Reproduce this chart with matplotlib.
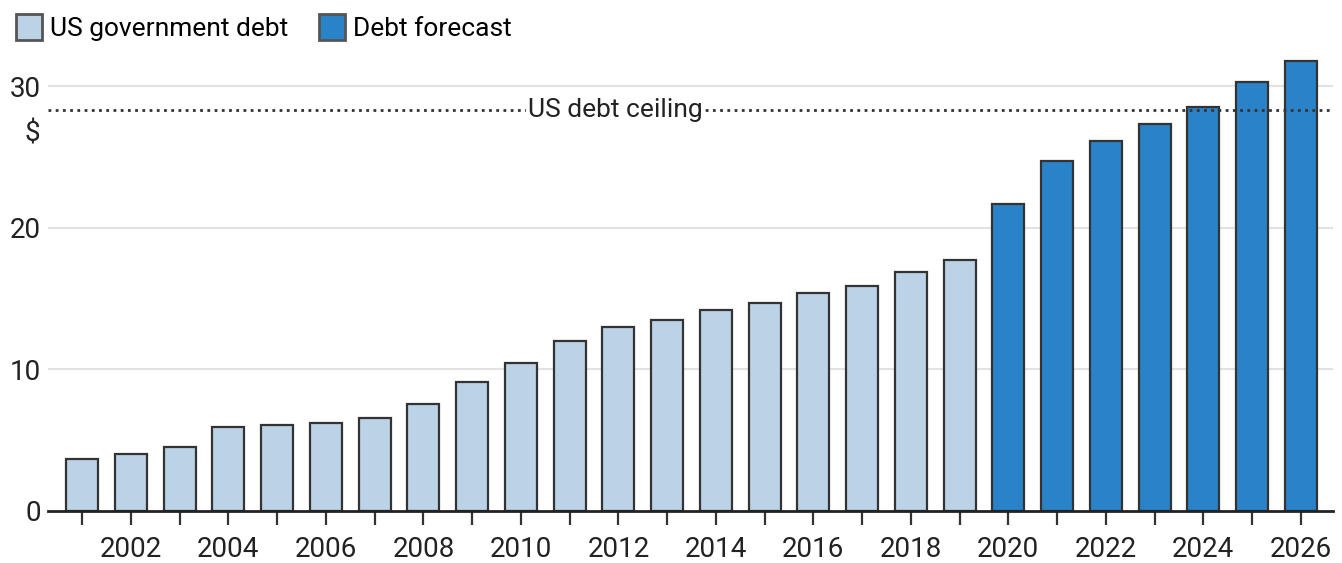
import matplotlib
matplotlib.use('Agg')
import matplotlib.pyplot as plt
from matplotlib.patches import Patch

plt.rcParams['font.family'] = ['Roboto', 'DejaVu Sans']

# US government debt, trillions of dollars
years = list(range(2001, 2027))
debt = [3.67, 4.03, 4.52, 5.94, 6.08, 6.22, 6.57, 7.56, 9.12, 10.46, 12.01, 13.0, 13.5,
        14.2, 14.7, 15.4, 15.9, 16.9, 17.74, 21.7, 24.7, 26.1, 27.3, 28.5, 30.3, 31.8]
first_forecast_year = 2020
debt_ceiling = 28.3
yticks = [0, 10, 20, 30]

light = '#bcd2e6'
dark = '#2a83c9'
colors = [dark if y >= first_forecast_year else light for y in years]

fig = plt.figure(figsize=(13.42, 5.63), dpi=100)
ax = fig.add_axes([0.0358, 0.0924, 0.9575, 0.81])

ax.bar(years, debt, width=0.66, color=colors, edgecolor='#333333', linewidth=1.6, zorder=3)

for y in yticks[1:]:
    ax.axhline(y, color='#e2e2e2', linewidth=1.5, zorder=1)

ax.axhline(debt_ceiling, color='#333333', linestyle=(0, (1, 1.6)), linewidth=2, zorder=4)
ax.text(2011.93, debt_ceiling, 'US debt ceiling', ha='center', va='center', fontsize=19,
        color='#222222', zorder=5,
        bbox=dict(facecolor='white', edgecolor='none', pad=1))

ax.set_xlim(2000.3, 2026.66)
ax.set_ylim(0, 32.2)

ax.set_xticks(years)
ax.set_xticklabels([str(y) if y % 2 == 0 else '' for y in years], fontsize=20, color='#222222')
ax.tick_params(axis='x', length=10, width=1.6, color='#333333', pad=8)
ax.set_yticks(yticks)
ax.set_yticklabels([str(v) for v in yticks], fontsize=20, color='#222222')
ax.tick_params(axis='y', length=0, pad=5)
ax.text(-0.006, 26.6, '$', transform=ax.get_yaxis_transform(), ha='right', va='center',
        fontsize=20, color='#222222')

for s in ['top', 'right', 'left']:
    ax.spines[s].set_visible(False)
ax.spines['bottom'].set_linewidth(2)
ax.spines['bottom'].set_color('#222222')
ax.spines['bottom'].set_zorder(6)

handles = [Patch(facecolor=light, edgecolor='#555555', linewidth=2),
           Patch(facecolor=dark, edgecolor='#555555', linewidth=2)]
fig.legend(handles, ['US government debt', 'Debt forecast'], loc='upper left',
           bbox_to_anchor=(-0.006, 1.017), ncol=2, frameon=False, fontsize=19,
           handlelength=1.0, handleheight=1.1, handletextpad=0.3, columnspacing=1.15)

fig.savefig('out.png', dpi=100)
